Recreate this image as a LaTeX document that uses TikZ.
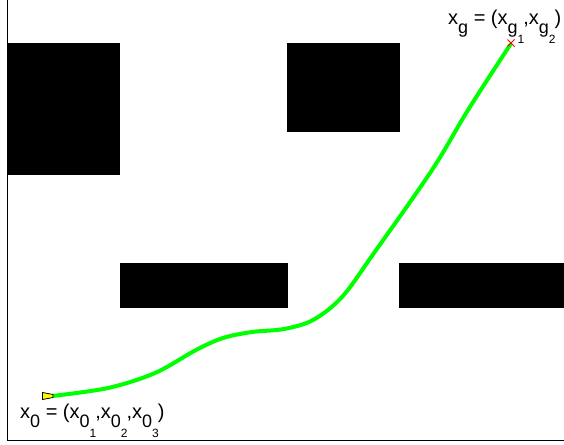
\documentclass[tikz,border=0pt]{standalone}
\usepackage{fontspec}
\setmainfont{Liberation Sans}
\usetikzlibrary{positioning}

% lowered sub- and sub-subscripts, in the plot's style
\newcommand{\lowsub}[1]{\raisebox{-9pt}{\fontsize{18}{18}\selectfont #1}}
\newcommand{\lowsubsub}[1]{\raisebox{-10pt}{\fontsize{12}{12}\selectfont #1}\kern-1pt}

\begin{document}
\begin{tikzpicture}[x=1pt, y=-1pt, font=\fontsize{20}{22}\selectfont]
  % Define colors
  \definecolor{trajgreen}{HTML}{00FF00}
  \definecolor{startyellow}{HTML}{FFFF00}
  \definecolor{goalred}{HTML}{FF0000}

  \tikzset{
    obstacle/.style={fill=black},
    trajectory/.style={draw=trajgreen, line width=4pt, line cap=round},
    poslabel/.style={anchor=base west, inner sep=0pt}
  }

  \useasboundingbox (0,0) rectangle (564,444);

  % Axes frame
  \draw[line width=1pt] (7,0) -- (7,440) -- (564,440);

  % Obstacles
  \fill[obstacle] (7,43) rectangle (120,175);
  \fill[obstacle] (287,43) rectangle (400,132);
  \fill[obstacle] (120,263) rectangle (288,308);
  \fill[obstacle] (399,263) rectangle (564,308);

  % Start and goal
  \coordinate (start) at (52,396);
  \coordinate (goal) at (510,45);

  % Trajectory
  \draw[trajectory] plot[smooth, tension=0.55] coordinates {
    (start) (108,388) (155,373) (196,350) (223,338) (252,332) (284,329)
    (313,320) (342,297) (374,253) (432,170) (468,110) (goal)};

  % Start marker
  \draw[fill=startyellow, line width=0.8pt] (42.5,392.5) -- (53,394.5) -- (53,397.5) -- (42.5,399.5) -- cycle;

  % Goal marker
  \draw[goalred, line width=0.8pt] (507.5,39.5) -- (514.5,46.5) (507.5,46.5) -- (514.5,39.5);

  % Labels
  \node[poslabel] (startlabel) at (20,418)
    {x\lowsub{0} = (x\lowsub{0\lowsubsub{1}},x\lowsub{0\lowsubsub{2}},x\lowsub{0\lowsubsub{3}})};
  \node[poslabel] (goallabel) at (448,25)
    {x\lowsub{g} = (x\lowsub{g\lowsubsub{1}},x\lowsub{g\lowsubsub{2}})};
\end{tikzpicture}
\end{document}
